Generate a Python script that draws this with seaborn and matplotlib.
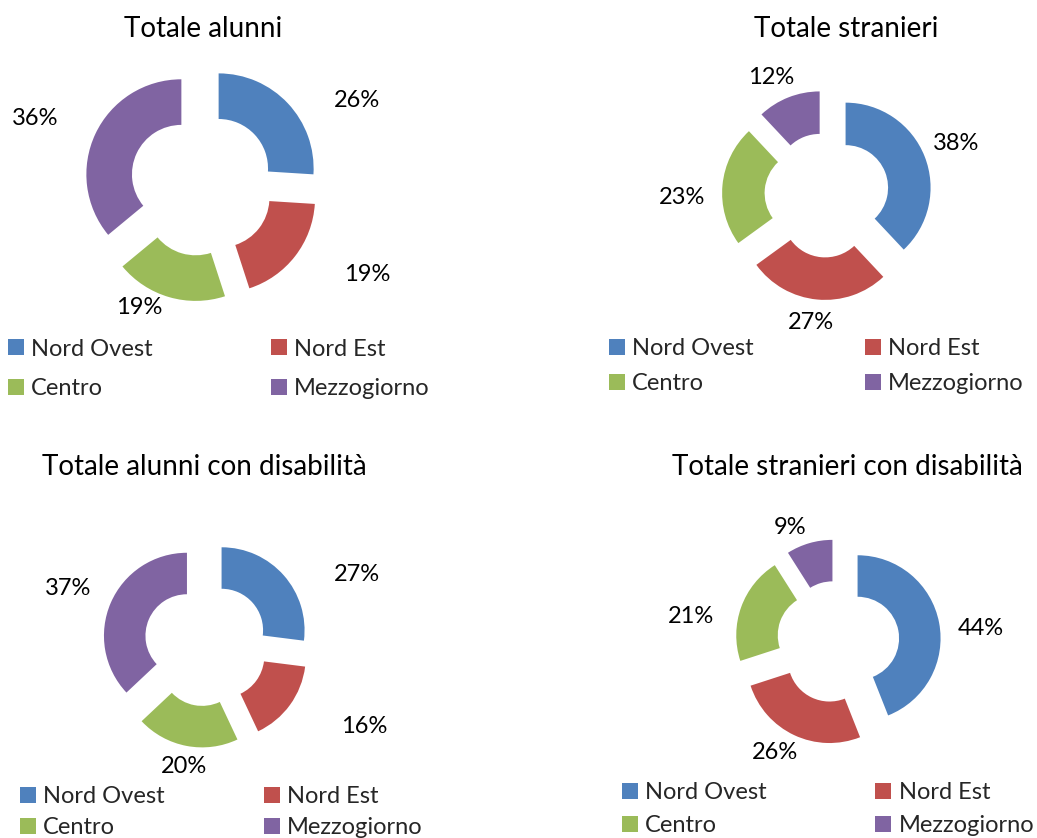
import matplotlib
matplotlib.use("Agg")
import matplotlib.pyplot as plt
import numpy as np
import seaborn as sns

# ------------------------------------------------------------
# data
# ------------------------------------------------------------
regions = ["Nord Ovest", "Nord Est", "Centro", "Mezzogiorno"]

titles = ["Totale alunni", "Totale stranieri",
          "Totale alunni con disabilità", "Totale stranieri con disabilità"]

alunni = [26, 19, 19, 36]
stranieri = [38, 27, 23, 12]
alunni_dis = [27, 16, 20, 37]
stranieri_dis = [44, 26, 21, 9]

# ------------------------------------------------------------
# style
# ------------------------------------------------------------
sns.set_theme(style="white")
plt.rcParams['font.family'] = ['Lato', 'DejaVu Sans']
palette = sns.color_palette(["#4F81BD", "#C0504D", "#9BBB59", "#8064A2"])

W, H = 1037, 838
fig = plt.figure(figsize=(W / 100, H / 100), dpi=100)
fig.patch.set_facecolor("white")

# layout per panel (pixels): pie centre, radius, explode, ring width,
# title baseline, legend anchor, column/row spacing, label (angle, distance)
panels = [
    dict(values=alunni, cx=202, cy=184, r=95, expl=0.24, ring=0.48,
         title=(203, 37), leg=(8, 369), colsp=5.0, rowsp=0.8,
         lab=[(63.8, 1.62), (117.6, 1.75), (209, 1.22), (291, 1.65)]),
    dict(values=stranieri, cx=827, cy=195, r=85, expl=0.235, ring=0.5,
         title=(846, 37), leg=(609, 366), colsp=4.7, rowsp=0.6,
         lab=[(68.1, 1.40), (187.3, 1.28), (268, 1.47), (333.9, 1.29)]),
    dict(values=alunni_dis, cx=206, cy=644, r=83, expl=0.25, ring=0.5,
         title=(204, 475), leg=(20, 812), colsp=4.2, rowsp=0.42,
         lab=[(67.5, 1.76), (116.6, 1.90), (190, 1.25), (291.9, 1.54)]),
    dict(values=stranieri_dis, cx=838, cy=642, r=83, expl=0.24, ring=0.5,
         title=(847, 475), leg=(622, 809), colsp=4.6, rowsp=0.5,
         lab=[(85.4, 1.49), (210.6, 1.30), (278.5, 1.56), (335.8, 1.26)]),
]

FS = 17
half = 200  # half size of each pie axes in pixels

for p, title in zip(panels, titles):
    ax = fig.add_axes([(p['cx'] - half) / W, 1 - (p['cy'] + half) / H,
                       2 * half / W, 2 * half / H])
    wedges, _ = ax.pie(p['values'], radius=1, explode=[p['expl']] * 4,
                       startangle=90, counterclock=False, colors=palette,
                       wedgeprops=dict(width=p['ring'], edgecolor='none'))
    lim = half / p['r']
    ax.set_xlim(-lim, lim)
    ax.set_ylim(-lim, lim)
    ax.set_aspect('equal')
    ax.axis('off')

    # percentage labels outside the ring
    total = sum(p['values'])
    for w, v, (ang, dist) in zip(wedges, p['values'], p['lab']):
        a = np.deg2rad(ang)
        x = w.center[0] + dist * np.sin(a)
        y = w.center[1] + dist * np.cos(a)
        ax.text(x, y, f"{round(100 * v / total)}%", ha='center', va='center',
                fontsize=FS, color='black', clip_on=False)

    fig.text(p['title'][0] / W, 1 - p['title'][1] / H, title,
             ha='center', va='baseline', fontsize=FS + 3, color='black')

    order = [0, 2, 1, 3]
    fig.legend([wedges[i] for i in order], [regions[i] for i in order],
               ncol=2, loc='center left',
               bbox_to_anchor=(p['leg'][0] / W, 1 - p['leg'][1] / H),
               bbox_transform=fig.transFigure, frameon=False,
               fontsize=FS, handlelength=0.68, handleheight=0.68,
               handletextpad=0.3, columnspacing=p['colsp'],
               labelspacing=p['rowsp'], borderpad=0, borderaxespad=0)

fig.savefig("out.png", dpi=100, facecolor="white")
